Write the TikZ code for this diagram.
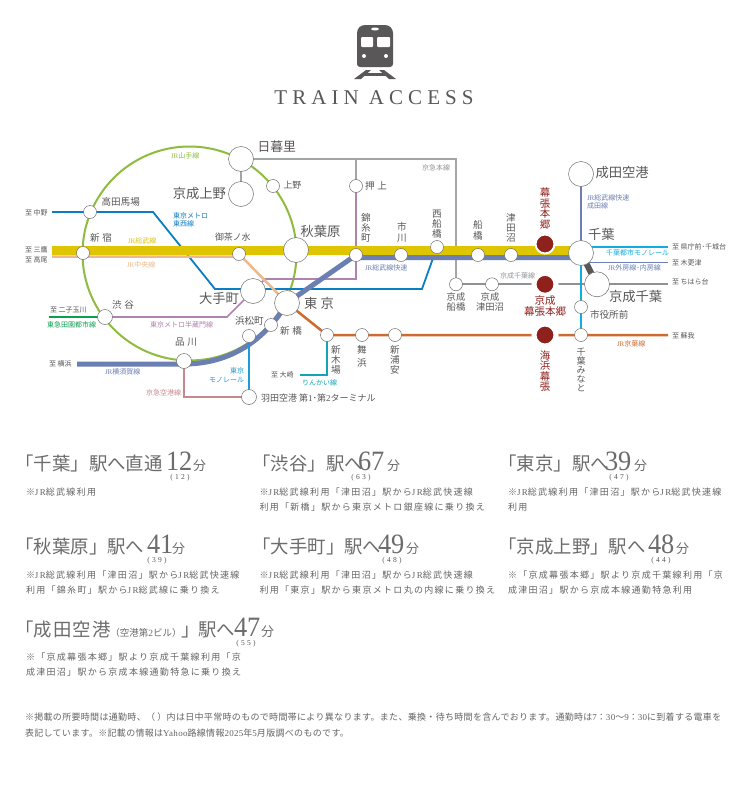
\documentclass[tikz,border=0pt]{standalone}
\usepackage{fontspec}
\setmainfont{Liberation Serif}
\newfontfamily\jp{Noto Sans CJK JP}
\newfontfamily\jpb[LetterSpace=14.5]{Noto Sans CJK JP}
\newfontfamily\jpf[LetterSpace=3.5]{Noto Sans CJK JP}
\newfontfamily\latb[LetterSpace=14.5]{Liberation Serif}
\newfontfamily\latf[LetterSpace=3.5]{Liberation Serif}
\newfontfamily\latp[LetterSpace=30]{Liberation Serif}
\newfontfamily\latt[LetterSpace=24]{Liberation Serif}
\newfontfamily\numf[FakeStretch=0.94]{Liberation Serif}
\newcommand\fs[2][1.12]{\fontsize{#2}{#2}\selectfont\baselineskip=#1\dimexpr#2pt\relax}
\newcommand\lat[1]{{\rmfamily #1}}
\newcommand\blat[1]{{\latb #1}}
\newcommand\flt[1]{{\latf #1}}
\definecolor{ink}{HTML}{595757}
\definecolor{cyam}{HTML}{8FBC3F}
\definecolor{csobu}{HTML}{DFC400}
\definecolor{cchuo}{HTML}{EDB98C}
\definecolor{crapid}{HTML}{6C7FB3}
\definecolor{ctozai}{HTML}{0B7DC2}
\definecolor{chanzo}{HTML}{B083AE}
\definecolor{ckeisei}{HTML}{A3A6A9}
\definecolor{ckchiba}{HTML}{8F9193}
\definecolor{ckeiyo}{HTML}{CE6B2F}
\definecolor{crinkai}{HTML}{12A5B8}
\definecolor{cmono}{HTML}{1E9BD7}
\definecolor{ckeikyu}{HTML}{C9868D}
\definecolor{ctokyu}{HTML}{0AA04F}
\definecolor{ccm}{HTML}{12ADE0}
\definecolor{cred}{HTML}{8E211C}
\tikzset{
  every node/.style={font=\jp,text=ink,inner sep=0pt,outer sep=0pt},
  st/.style={circle,draw=ink!85,line width=.5pt,fill=white,minimum size=13pt},
  mid/.style={circle,draw=ink!85,line width=.5pt,fill=white,minimum size=15pt},
  big/.style={circle,draw=ink!85,line width=.5pt,fill=white,minimum size=25pt},
  red/.style={circle,fill=cred,minimum size=19pt,draw=white,line width=2pt},
  redgap/.style={circle,fill=cred,minimum size=22pt,draw=white,line width=5pt},
  tb/.style={font=\jp\fs{12.8}},
  tm/.style={font=\jp\fs{13.3}},
  ts/.style={font=\jp\fs{9.6}},
  tx/.style={font=\jp\fs{8.9}},
  tv/.style={font={\jp\fs[1.03]{9.6}},align=center},
  tn/.style={font={\jp\fs[1.0]{9}},align=center},
  tw/.style={font={\jp\fs[1.08]{9.3}},align=center},
  tr/.style={font={\jp\fs[1.02]{10.4}},align=center,text=cred},
  trh/.style={font={\jp\fs[1.12]{10.5}},align=center,text=cred},
  tl/.style={font=\jp\fs{7}},
  tc/.style={font={\jp\fs[1.2]{7}},align=center},
  body/.style={font=\jpb\fs{9},anchor=base west,text=ink!92},
  foot/.style={font=\jpf\fs{9},anchor=base west,text=ink!92},
  headtext/.style={font=\jp\fs{18.4},anchor=base west,text=ink!88},
  headnum/.style={font=\numf\fs{28},anchor=base west,text=ink!88},
  headfun/.style={font=\jp\fs{13},anchor=base west,text=ink!88},
  headpar/.style={font=\latp\fs{7.5}},
}
\newcommand\headline[9]{%
  \node[headtext] (#1a) at (#2,#3) {#4};
  \node[headnum] (#1b) at (#5,#3) {#6};
  \node[headfun] (#1c) at (#7,#3) {分};
  \node[headpar] (#1d) at (#9,#3+8) {#8};
}
\begin{document}
\begin{tikzpicture}[x=1pt,y=-1pt]
\useasboundingbox (0,0) rectangle (750,787);
\pgfdeclarelayer{paper}\pgfdeclarelayer{lines}\pgfsetlayers{paper,lines,main}
\begin{pgfonlayer}{paper}
\fill[white] (0,0) rectangle (750,787);
\end{pgfonlayer}
% train icon
\fill[ink,rounded corners=8] (357,50) -- (357,25) -- (393,25) -- (393,50) [rounded corners=3] -- (393,67) -- (357,67) -- cycle;
\fill[white,rounded corners=1] (361,37) rectangle (373,47);
\fill[white,rounded corners=1] (377,37) rectangle (390,47);
\fill[white] (375,29) ellipse (4 and 1.5);
\fill[white] (364,56) circle (2);
\fill[white] (386,56) circle (2);
\fill[ink] (366,70) -- (371,70) -- (361,79) -- (354,79) -- cycle;
\fill[ink] (384,70) -- (379,70) -- (389,79) -- (396,79) -- cycle;
\fill[ink] (364,72.5) rectangle (386,75.5);
\node[font=\latt\fs{21},anchor=base] (title) at (374,104) {TRAIN ACCESS};
% stations
\node[big] (nippori) at (241,159) {};
\node[big] (kueno) at (241,194) {};
\node[big] (akiba) at (296,250) {};
\node[big] (otemachi) at (253,291) {};
\node[big] (tokyo) at (287,303) {};
\node[big] (narita) at (581,174) {};
\node[big] (chiba) at (581,253) {};
\node[big] (kchiba) at (597,284.3) {};
\node[st] (takada) at (90,212) {};
\node[st] (shinjuku) at (83,253) {};
\node[st] (ochanomizu) at (239,254) {};
\node[st] (ueno) at (273,186) {};
\node[st] (oshiage) at (356,186) {};
\node[st] (kinshicho) at (356,255) {};
\node[st] (ichikawa) at (401,255) {};
\node[st] (nishifuna) at (437,247) {};
\node[st] (funabashi) at (478,255) {};
\node[st] (tsudanuma) at (511,255) {};
\node[st] (shiyakusho) at (581,307) {};
\node[st] (minato) at (581,335) {};
\node[st] (kfuna) at (456,284.3) {};
\node[st] (ktsuda) at (492,284.3) {};
\node[st] (shimbashi) at (271,325) {};
\node[st] (hamamatsu) at (249,336) {};
\node[mid] (haneda) at (249,397) {};
\node[st] (shinkiba) at (327,335) {};
\node[st] (maihama) at (362,335) {};
\node[st] (urayasu) at (395,335) {};
\node[mid] (shibuya) at (105,317) {};
\node[mid] (shinagawa) at (184,361) {};
\node[red] (makuhari) at (545,244) {};
\node[redgap] (kmakuhari) at (545,284.3) {};
\node[redgap] (kaihin) at (545,335) {};
% free ends and bends
\coordinate (yw) at (52,250.5);
\coordinate (ye) at (581,250.5);
\coordinate (cw) at (52,256.5);
\coordinate (cb) at (239,256.5);
\coordinate (nakano) at (52,212);
\coordinate (tz1) at (153,212);
\coordinate (tz2) at (215,289);
\coordinate (tz3) at (422,289);
\coordinate (hz1) at (227,317);
\coordinate (hz2) at (265,279);
\coordinate (hz3) at (356,279);
\coordinate (rapidw) at (356,257.5);
\coordinate (rapide) at (581,257.5);
\coordinate (yoko) at (77,364);
\coordinate (shinb) at (184,364);
\coordinate (k1) at (456,159);
\coordinate (k2) at (356,159);
\coordinate (soga) at (668,335);
\coordinate (chihara) at (668,284.3);
\coordinate (ki) at (184,397);
\coordinate (ri1) at (327,375);
\coordinate (ri2) at (300,375);
\coordinate (futako) at (49,317);
\coordinate (cm0) at (581,247);
\coordinate (cm1) at (668,247);
\coordinate (so0) at (581,262.5);
\coordinate (so1) at (668,262.5);
\coordinate (ycenter) at (189.5,253.5);
\begin{pgfonlayer}{lines}
\draw[cyam,line width=2pt] (ycenter) circle (107);
\draw[ckeisei,line width=2pt] (nippori.center) -- (kueno.center);
\draw[ckeisei,line width=2pt] (nippori.center) -- (k2) -- (k1) -- (kfuna.center);
\draw[ckeisei,line width=2pt] (k2) -- (oshiage.center);
\draw[ckchiba,line width=2pt] (kfuna.center) -- (ktsuda.center) -- (kmakuhari.center) -- (kchiba.center) -- (chihara);
\draw[ctozai,line width=1.8pt] (nakano) -- (tz1) -- (tz2) -- (tz3) -- (nishifuna.center);
\draw[chanzo,line width=1.7pt] (shibuya.center) -- (hz1) -- (hz2) -- (hz3) -- (kinshicho.center);
\draw[chanzo,line width=1.7pt] (kinshicho.center) -- (oshiage.center);
\draw[cchuo,line width=2.5pt] (cw) -- (cb) -- (ochanomizu.center) -- (tokyo.center);
\draw[csobu,line width=9pt] (yw) -- (ye);
\draw[crapid,line width=5pt] (rapide) -- (rapidw) -- (kinshicho.center) -- (tokyo.center)
   .. controls (262,345) and (225,364) .. (shinb) -- (yoko);
\draw[ckeikyu,line width=1.7pt] (shinagawa.center) -- (ki) -- (haneda.center);
\draw[cmono,line width=1.7pt] (hamamatsu.center) -- (haneda.center);
\draw[ckeiyo,line width=2.5pt] (tokyo.center) -- (shinkiba.center) -- (soga);
\draw[crinkai,line width=1.7pt] (shinkiba.center) -- (ri1) -- (ri2);
\draw[ctokyu,line width=1.7pt] (futako) -- (shibuya.center);
\draw[crapid,line width=1.6pt] (narita.center) -- (chiba.center);
\draw[ccm,line width=2pt] (cm0) -- (cm1);
\draw[ccm,line width=2pt] (chiba.center) -- (minato.center);
\draw[crapid,line width=1.6pt] (so0) -- (so1);
\draw[ink,line width=6pt] (chiba.center) -- (kchiba.center);
\end{pgfonlayer}
% station names
\node[tb,anchor=west] (n1) at (257.5,147) {日暮里};
\node[tm,anchor=east] (n2) at (226,193) {京成上野};
\node[tm,anchor=west] (n3) at (300.5,231) {秋葉原};
\node[tm,anchor=east] (n4) at (239,298) {大手町};
\node[tm,anchor=west] (n5) at (304,303) {東\hspace{.25em}京};
\node[tm,anchor=west] (n6) at (595.5,172) {成田空港};
\node[tm,anchor=west] (n7) at (588,234) {千葉};
\node[tm,anchor=west] (n8) at (609,296) {京成千葉};
\node[ts,anchor=west] (n9) at (101.5,202) {高田馬場};
\node[ts,anchor=west] (n10) at (90,238) {新\hspace{.3em}宿};
\node[tx,anchor=west] (n11) at (215,237) {御茶ノ水};
\node[ts,anchor=west] (n12) at (112,305) {渋\hspace{.3em}谷};
\node[ts,anchor=west] (n13) at (175,342) {品\hspace{.3em}川};
\node[ts,anchor=west] (n14) at (235,321) {浜松町};
\node[ts,anchor=west] (n15) at (280,331) {新\hspace{.3em}橋};
\node[tx,anchor=west] (n16) at (283.5,185) {上野};
\node[ts,anchor=west] (n17) at (365,186) {押\hspace{.3em}上};
\node[tv] (n18) at (366,228) {錦\\糸\\町};
\node[tv] (n19) at (402,232.5) {市\\[1.5pt]川};
\node[tv] (n20) at (437,224) {西\\船\\橋};
\node[tv] (n21) at (478,230.5) {船\\[1.5pt]橋};
\node[tv] (n22) at (511,227.5) {津\\田\\沼};
\node[tr] (n23) at (545,208.5) {幕\\張\\本\\郷};
\node[tw] (n24) at (456,302) {京成\\船橋};
\node[tw] (n25) at (490,302) {京成\\津田沼};
\node[trh] (n26) at (545,306) {京成\\幕張本郷};
\node[ts,anchor=west] (n27) at (590,315) {市役所前};
\node[tn] (n28) at (581,369.5) {千\\葉\\み\\な\\と};
\node[tr] (n29) at (545,371) {海\\浜\\幕\\張};
\node[tv] (n30) at (336,360) {新\\木\\場};
\node[tv] (n31) at (362,356.5) {舞\\[3pt]浜};
\node[tv] (n32) at (395,360) {新\\浦\\安};
\node[font=\jp\fs{9},anchor=west] (n33) at (261,398) {羽田空港 第\lat{1}･第\lat{2}ターミナル};
% destinations
\node[tl,anchor=west] (d1) at (25,213) {至 中野};
\node[tl,anchor=west] (d2) at (25,250) {至 三鷹};
\node[tl,anchor=west] (d3) at (25,260) {至 高尾};
\node[tl,anchor=west] (d4) at (50,310) {至 二子玉川};
\node[tl,anchor=west] (d5) at (49,364) {至 横浜};
\node[tl,anchor=west] (d6) at (271,375) {至 大崎};
\node[tl,anchor=west] (d7) at (672,247) {至 県庁前･千城台};
\node[tl,anchor=west] (d8) at (672,263) {至 木更津};
\node[tl,anchor=west] (d9) at (672,282) {至 ちはら台};
\node[tl,anchor=west] (d10) at (672,336) {至 蘇我};
% line names
\node[tl,text=cyam,anchor=west] (m1) at (171,156) {\lat{JR}山手線};
\node[tc,text=ctozai,anchor=west,align=left] (m2) at (173,220) {東京メトロ\\東西線};
\node[tl,text=csobu,anchor=west] (m3) at (128,241) {\lat{JR}総武線};
\node[tl,text=cchuo,anchor=west] (m4) at (127,265) {\lat{JR}中央線};
\node[tl,text=ctokyu,anchor=west] (m5) at (47,325) {東急田園都市線};
\node[tl,text=chanzo,anchor=west] (m6) at (150,325) {東京メトロ半蔵門線};
\node[tl,text=crapid,anchor=west] (m7) at (105,372) {\lat{JR}横須賀線};
\node[tl,text=ckeikyu,anchor=east] (m8) at (181,393) {京急空港線};
\node[tc,text=cmono,anchor=east,align=right] (m9) at (244,375) {東京\\モノレール};
\node[tl,text=crinkai,anchor=west] (m10) at (302,383) {りんかい線};
\node[tl,text=ckeisei!90!black,anchor=west] (m11) at (422,168) {京急本線};
\node[tl,text=crapid,anchor=west] (m12) at (365,268) {\lat{JR}総武線快速};
\node[tl,text=ckeisei!90!black,anchor=west] (m13) at (500,276) {京成千葉線};
\node[tc,text=crapid,anchor=west,align=left] (m14) at (587,202) {\lat{JR}総武線快速\\成田線};
\node[tl,text=ccm,anchor=west] (m15) at (606,253) {千葉都市モノレール};
\node[tl,text=crapid,anchor=west] (m16) at (608,268) {\lat{JR}外房線･内房線};
\node[tl,text=ckeiyo,anchor=west] (m17) at (617,344) {\lat{JR}京葉線};
% headings
\headline{ha}{15.5}{470}{「千葉」駅へ直通}{166}{12}{193}{(12)}{180}
\headline{hb}{252.5}{470}{「渋谷」駅へ}{358}{67}{387}{(63)}{361}
\headline{hc}{498.5}{470}{「東京」駅へ}{605}{39}{634}{(47)}{619}
\headline{hd}{15.5}{553}{「秋葉原」駅へ}{147}{41}{172}{(39)}{157}
\headline{he}{252.5}{553}{「大手町」駅へ}{378}{49}{406}{(48)}{392}
\headline{hf}{498.5}{553}{「京成上野」駅へ}{648}{48}{676}{(44)}{661}
\headline{hg}{15.5}{636}{「成\kern1pt 田\kern1pt 空\kern1pt 港{\fs{9.5}（空港第\lat{2}ビル）}」\kern-2pt 駅へ}{234}{47}{261}{(55)}{246}
% notes
\node[body] (b1) at (26,495) {※\blat{JR}総武線利用};
\node[body] (b2) at (259.5,495) {※\blat{JR}総武線利用「津田沼」駅から\blat{JR}総武快速線};
\node[body] (b3) at (259.5,510) {利用「新橋」駅から東京メトロ銀座線に乗り換え};
\node[body] (b4) at (508,495) {※\blat{JR}総武線利用「津田沼」駅から\blat{JR}総武快速線};
\node[body] (b5) at (508,510) {利用};
\node[body] (b6) at (26,578) {※\blat{JR}総武線利用「津田沼」駅から\blat{JR}総武快速線};
\node[body] (b7) at (26,593) {利用「錦糸町」駅から\blat{JR}総武線に乗り換え};
\node[body] (b8) at (259.5,578) {※\blat{JR}総武線利用「津田沼」駅から\blat{JR}総武快速線};
\node[body] (b9) at (259.5,593) {利用「東京」駅から東京メトロ丸の内線に乗り換え};
\node[body] (b10) at (508,578) {※「京成幕張本郷」駅より京成千葉線利用「京};
\node[body] (b11) at (508,593) {成津田沼」駅から京成本線通勤特急利用};
\node[body] (b12) at (26,660) {※「京成幕張本郷」駅より京成千葉線利用「京};
\node[body] (b13) at (26,675) {成津田沼」駅から京成本線通勤特急に乗り換え};
\node[foot] (b14) at (25,720) {※掲載の所要時間は通勤時、（ ）内は日中平常時のもので時間帯により異なります。また、乗換・待ち時間を含んでおります。通勤時は\flt{7}：\flt{30}〜\flt{9}：\flt{30}に到着する電車を};
\node[foot] (b15) at (25,736) {表記しています。※記載の情報は\flt{Yahoo}路線情報\flt{2025}年\flt{5}月版調べのものです。};
\end{tikzpicture}
\end{document}
